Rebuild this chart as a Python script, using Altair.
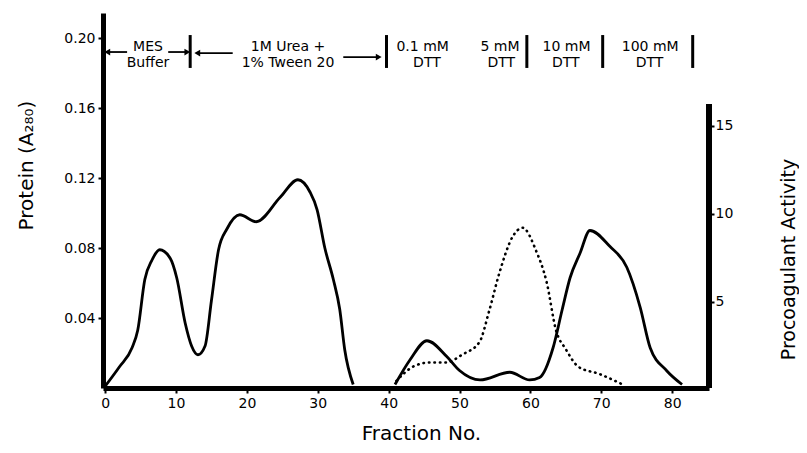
import altair as alt
import pandas as pd

# ---- data ----
# Protein (A280), solid line, two elution segments
frac_seg1 = [0, 2, 3.8, 4.6, 5.6, 6.6, 7.7, 9.2, 10.1, 11.3, 12.2, 13.1, 14.1, 15.0, 16.0, 17.2, 19.0, 21.3, 24.7, 27.2, 28.9, 29.9, 31.0, 32.2, 33.1, 33.8, 35.0]
prot_seg1 = [0.001, 0.012, 0.023, 0.033, 0.062, 0.073, 0.079, 0.074, 0.063, 0.037, 0.024, 0.019, 0.024, 0.050, 0.079, 0.091, 0.099, 0.095, 0.109, 0.119, 0.112, 0.102, 0.080, 0.062, 0.045, 0.022, 0.002]
frac_seg2 = [40.9, 43.0, 45.4, 48.2, 50.0, 52.9, 57.1, 59.9, 61.3, 63.2, 64.5, 65.6, 67.0, 68.4, 71.2, 73.6, 75.5, 76.9, 79.2, 81.4]
prot_seg2 = [0.002, 0.016, 0.027, 0.018, 0.010, 0.0046, 0.009, 0.0046, 0.006, 0.023, 0.045, 0.063, 0.077, 0.090, 0.081, 0.069, 0.046, 0.023, 0.010, 0.002]

# Procoagulant activity, dotted line
act_frac = [41.1, 43.4, 45.8, 48.1, 50.4, 52.8, 54.2, 55.6, 57.5, 58.9, 60.8, 62.3, 63.6, 65.0, 66.8, 69.7, 73.0]
act_val = [0.4, 1.2, 1.45, 1.45, 1.9, 2.6, 4.4, 6.5, 8.6, 9.1, 7.8, 6.0, 3.3, 2.2, 1.2, 0.8, 0.2]

# buffer change boundaries (fraction numbers)
boundaries = [12.0, 39.7, 59.5, 70.2, 82.9]

# buffer labels: (text, fraction anchor, line)
label_text = ["MES", "Buffer", "1M Urea +", "1% Tween 20", "0.1 mM", "DTT", "5 mM", "DTT", "10 mM", "DTT", "100 mM", "DTT"]
label_frac = [6.05, 6.05, 25.8, 25.8, 44.8, 45.4, 55.7, 55.9, 65.1, 65.0, 76.9, 76.8]
label_line = [1, 2, 1, 2, 1, 2, 1, 2, 1, 2, 1, 2]

# arrows: tail fraction, head fraction, row
arrow_tail = [3.1, 8.9, 18.0, 33.6]
arrow_head = [0.3, 11.6, 13.0, 38.6]
arrow_row = [0.1920, 0.1920, 0.1914, 0.1891]

x_ticks = [0, 10, 20, 30, 40, 50, 60, 70, 80]
yl_ticks = [0.04, 0.08, 0.12, 0.16, 0.20]
yr_ticks = [5, 10, 15]

FONT = "DejaVu Sans"

prot_df = pd.DataFrame({
    "fraction": frac_seg1 + frac_seg2,
    "protein": prot_seg1 + prot_seg2,
    "segment": ["a"] * len(frac_seg1) + ["b"] * len(frac_seg2),
})
act_df = pd.DataFrame({"fraction": act_frac, "activity": act_val})
bnd_df = pd.DataFrame({"fraction": boundaries})
row_y = {1: 0.1949, 2: 0.1857}
lab_df = pd.DataFrame({"text": label_text, "fraction": label_frac,
                       "protein": [row_y[r] for r in label_line]})
arr_df = pd.DataFrame({"tail": arrow_tail, "head": arrow_head, "protein": arrow_row,
                       "shape": ["triangle-left" if h < t else "triangle-right"
                                 for t, h in zip(arrow_tail, arrow_head)]})

xs = alt.Scale(domain=[-0.3, 85.2], nice=False, zero=False)
yl = alt.Scale(domain=[0, 0.2143], nice=False)
yr = alt.Scale(domain=[0, 21.3], nice=False)

x_axis = alt.Axis(values=x_ticks, title="Fraction No.", format="d",
                  titleX=318, titleY=51, titleAlign="center", titleBaseline="alphabetic",
                  titleFontSize=20, labelFontSize=14, tickSize=5, labelPadding=3)
yl_axis = alt.Axis(values=yl_ticks, format=".2f", title="Protein (A₂₈₀)",
                   titleAngle=270, titleX=-77, titleY=152, titleAlign="center",
                   titleBaseline="middle", titleFontSize=20, labelFontSize=14,
                   tickSize=5, labelPadding=3)
yr_axis = alt.Axis(values=yr_ticks, format="d", title="Procoagulant Activity", orient="right",
                   domain=False, titleAngle=270, titleX=85, titleY=246, titleAlign="center",
                   titleBaseline="alphabetic", titleFontSize=19, labelFontSize=14,
                   tickSize=5, labelPadding=1, tickOffset=2)

protein_line = alt.Chart(prot_df).mark_line(
    color="black", strokeWidth=2.8, interpolate="monotone"
).encode(
    x=alt.X("fraction:Q", scale=xs, axis=x_axis),
    y=alt.Y("protein:Q", scale=yl, axis=yl_axis),
    detail="segment:N",
)

bars = alt.Chart(bnd_df).mark_rule(color="black", strokeWidth=3).encode(
    x=alt.X("fraction:Q", scale=xs, axis=x_axis),
    y=alt.Y(datum=0.1829, scale=yl, axis=yl_axis),
    y2=alt.Y2(datum=0.2017),
)

labels = alt.Chart(lab_df).mark_text(
    font=FONT, fontSize=14, color="black", baseline="middle", align="center"
).encode(
    x=alt.X("fraction:Q", scale=xs, axis=x_axis),
    y=alt.Y("protein:Q", scale=yl, axis=yl_axis),
    text="text:N",
)

arrow_lines = alt.Chart(arr_df).mark_rule(color="black", strokeWidth=1.8).encode(
    x=alt.X("tail:Q", scale=xs, axis=x_axis),
    x2="head:Q",
    y=alt.Y("protein:Q", scale=yl, axis=yl_axis),
)
arrow_heads = alt.Chart(arr_df).mark_point(
    filled=True, color="black", size=45, opacity=1
).encode(
    x=alt.X("head:Q", scale=xs, axis=x_axis),
    y=alt.Y("protein:Q", scale=yl, axis=yl_axis),
    shape=alt.Shape("shape:N", scale=None),
)

left = alt.layer(protein_line, bars, arrow_lines, arrow_heads, labels)

activity_line = alt.Chart(act_df).mark_line(
    color="black", strokeWidth=2.6, strokeDash=[0.5, 5], strokeCap="round",
    interpolate="monotone"
).encode(
    x=alt.X("fraction:Q", scale=xs, axis=x_axis),
    y=alt.Y("activity:Q", scale=yr, axis=yr_axis),
)

right_axis_line = alt.Chart(act_df).mark_rule(color="black", strokeWidth=5).encode(
    x=alt.value(606),
    y=alt.Y(datum=0, scale=yr, axis=yr_axis),
    y2=alt.Y2(datum=16.1),
)

right = alt.layer(activity_line, right_axis_line)

chart = alt.layer(left, right).resolve_scale(y="independent").properties(
    width=606, height=375,
    autosize=alt.AutoSizeParams(type="none"),
    padding={"left": 95, "top": 5, "right": 90, "bottom": 57},
).configure_view(stroke=None).configure_axis(
    grid=False, domainColor="black", domainWidth=5, tickColor="black", tickWidth=2,
    labelColor="black", titleColor="black", labelFont=FONT, titleFont=FONT,
    titleFontWeight="normal",
)

chart.save("out.html", embed_options={"renderer": "svg", "actions": False})
